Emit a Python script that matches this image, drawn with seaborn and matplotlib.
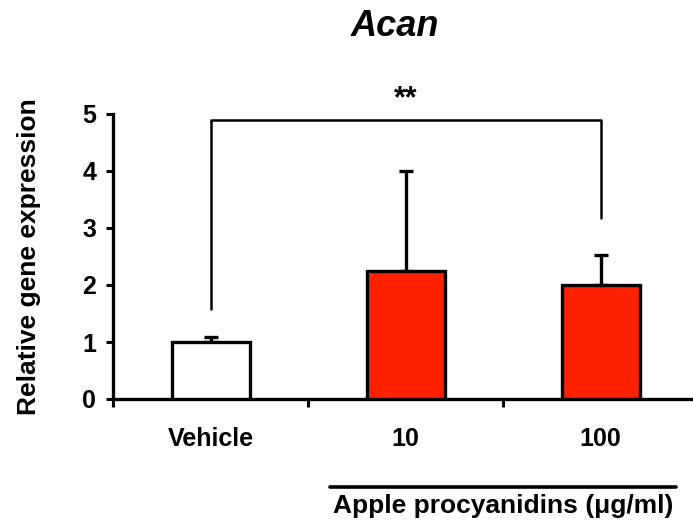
import matplotlib
matplotlib.use("Agg")
import matplotlib.pyplot as plt
import seaborn as sns
import pandas as pd
from matplotlib.ticker import FixedLocator

categories = ["Vehicle", "10", "100"]
means = [1.0, 2.25, 2.0]
err_up = [0.08, 1.75, 0.52]
yticks = [0, 1, 2, 3, 4, 5]
title = "Acan"
ylabel = "Relative gene expression"
group_label = "Apple procyanidins (\u03bcg/ml)"
sig_label = "**"

sns.set_theme(style="white")
plt.rcParams['font.family'] = ['Liberation Sans', 'DejaVu Sans']
plt.rcParams['font.weight'] = 'bold'
plt.rcParams['text.color'] = 'black'
plt.rcParams['axes.labelcolor'] = 'black'
plt.rcParams['xtick.color'] = 'black'
plt.rcParams['ytick.color'] = 'black'

fig = plt.figure(figsize=(6.93, 5.2), dpi=100)
ax = fig.add_axes([113/693, 121/520, 580/693, 285/520])

df = pd.DataFrame({"cat": categories, "val": means})
colors = ["#FFFFFF", "#FF2200", "#FF2200"]
sns.barplot(data=df, x="cat", y="val", hue="cat", palette=colors, legend=False,
            saturation=1, width=0.4, edgecolor="black", linewidth=2.4, ax=ax,
            errorbar=None, zorder=3)

xs = list(range(len(categories)))
ax.errorbar(xs, means, yerr=[[0]*3, err_up], fmt="none", ecolor="black",
            elinewidth=2.4, capsize=5, capthick=2.4, zorder=2)

ax.set_xlim(-0.5, 2.474)
ax.set_ylim(0, 5)
ax.set_yticks(yticks)
ax.set_yticklabels([str(t) for t in yticks], fontsize=18, fontweight="bold")
ax.tick_params(axis="y", length=5, width=2.2, direction="out", left=True, pad=7)

ax.xaxis.set_major_locator(FixedLocator([-0.5, 0.5, 1.5, 2.5]))
ax.xaxis.set_minor_locator(FixedLocator(xs))
ax.set_xticklabels([], minor=False)
ax.set_xticklabels(categories, minor=True, fontsize=18, fontweight="bold")
ax.tick_params(axis="x", which="major", length=6, width=2.2, direction="out", bottom=True)
ax.tick_params(axis="x", which="minor", length=0, pad=20, bottom=True)
ax.set_xlabel("")
ax.set_ylabel(ylabel, fontsize=19, fontweight="bold", labelpad=30)

for s in ["top", "right"]:
    ax.spines[s].set_visible(False)
for s in ["left", "bottom"]:
    ax.spines[s].set_linewidth(2.4)
    ax.spines[s].set_color("black")

# significance bracket
ax.plot([0, 0, 2, 2], [1.58, 4.9, 4.9, 3.18], color="black", lw=1.8, clip_on=False)
ax.text(1.0, 5.0, sig_label, ha="center", va="bottom", fontsize=22, fontweight="bold")

# group underline and label
ax.plot([0.615, 2.385], [-1.54, -1.54], color="black", lw=2.6, clip_on=False)
ax.text(1.5, -1.66, group_label, ha="center", va="top", fontsize=19, fontweight="bold")

fig.text(395/693, 1 - 26/520, title, ha="center", va="center", fontsize=26,
         fontweight="bold", fontstyle="italic")

fig.savefig("out.png", dpi=100)
